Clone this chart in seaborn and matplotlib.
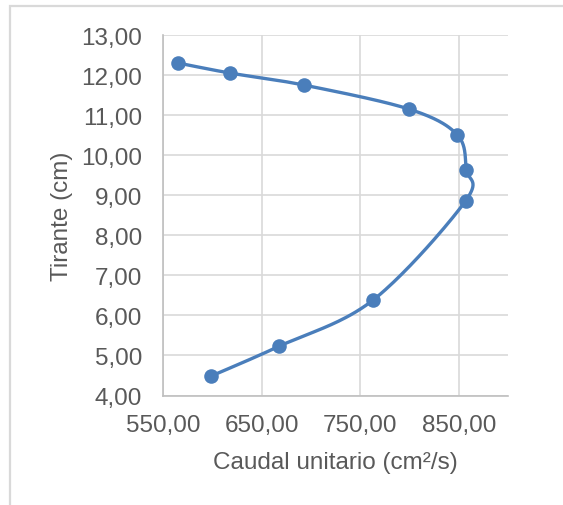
import numpy as np
import pandas as pd
import matplotlib
matplotlib.use("Agg")
import matplotlib.pyplot as plt
import seaborn as sns
from matplotlib.ticker import FuncFormatter

# --- data ---
caudal = [565.5, 618, 693, 799.6, 848.5, 857.6, 857, 763, 667.8, 598.3]
tirante = [12.30, 12.05, 11.75, 11.15, 10.51, 9.64, 8.86, 6.38, 5.23, 4.48]

X_TICKS = [550, 650, 750, 850]
Y_TICKS = [4, 5, 6, 7, 8, 9, 10, 11, 12, 13]

BLUE = "#4a7ebb"
GRAY_TXT = "#595959"
GRID = "#d9d9d9"
FS = 17.5


def smooth_curve(xs, ys, sx, sy, n=40):
    # Excel-like smoothed line: cubic bezier with catmull-rom control points,
    # built in screen-proportional units so the shape is not distorted
    p = np.column_stack([np.asarray(xs) * sx, np.asarray(ys) * sy])
    p = np.vstack([p[0], p, p[-1]])
    out = []
    t = np.linspace(0, 1, n)[:, None]
    for i in range(1, len(p) - 2):
        p0, p3 = p[i], p[i + 1]
        c1 = p0 + (p[i + 1] - p[i - 1]) / 6
        c2 = p3 - (p[i + 2] - p[i]) / 6
        seg = ((1 - t) ** 3) * p0 + 3 * ((1 - t) ** 2) * t * c1 + 3 * (1 - t) * t ** 2 * c2 + t ** 3 * p3
        out.append(seg if i == 1 else seg[1:])
    out = np.vstack(out)
    return out[:, 0] / sx, out[:, 1] / sy


sns.set_theme(style="white")
plt.rcParams["font.family"] = ["Liberation Sans", "DejaVu Sans"]

fig = plt.figure(figsize=(5.63, 5.06), dpi=100)
ax = fig.add_axes([163 / 563, 1 - 396.5 / 506, 345 / 563, 360.5 / 506])

# frame of the chart area (light gray, only top and left visible)
fig.add_artist(plt.Rectangle((10 / 563, -0.1), 1.2, 1.1 - 7.0 / 506,
                             transform=fig.transFigure, fill=False,
                             edgecolor=GRID, linewidth=1.6))

df = pd.DataFrame({"caudal": caudal, "tirante": tirante})
cx, cy = smooth_curve(caudal, tirante, 98.7 / 100, 40.0)
curve = pd.DataFrame({"caudal": cx, "tirante": cy})

sns.lineplot(data=curve, x="caudal", y="tirante", sort=False, estimator=None,
             color=BLUE, linewidth=2.4, ax=ax)
sns.scatterplot(data=df, x="caudal", y="tirante", color=BLUE, s=110,
                edgecolor=BLUE, linewidth=0, ax=ax, zorder=3)

ax.set_xlim(550, 900)
ax.set_ylim(4, 13)
ax.set_xticks(X_TICKS)
ax.set_yticks(Y_TICKS)
fmt = FuncFormatter(lambda v, _: f"{v:.2f}".replace(".", ","))
ax.xaxis.set_major_formatter(fmt)
ax.yaxis.set_major_formatter(fmt)

ax.grid(True, color=GRID, linewidth=1.2)
ax.set_axisbelow(True)
for s in ["top", "right"]:
    ax.spines[s].set_visible(False)
for s in ["left", "bottom"]:
    ax.spines[s].set_color("#bfbfbf")
    ax.spines[s].set_linewidth(1.2)

ax.tick_params(axis="both", length=0, labelsize=FS, labelcolor=GRAY_TXT)
ax.tick_params(axis="y", pad=15)
ax.tick_params(axis="x", pad=13)

ax.set_xlabel("Caudal unitario (cm²/s)", fontsize=FS, color=GRAY_TXT, labelpad=11)
ax.set_ylabel("Tirante (cm)", fontsize=FS, color=GRAY_TXT, labelpad=6)

fig.savefig("out.png", dpi=100)
